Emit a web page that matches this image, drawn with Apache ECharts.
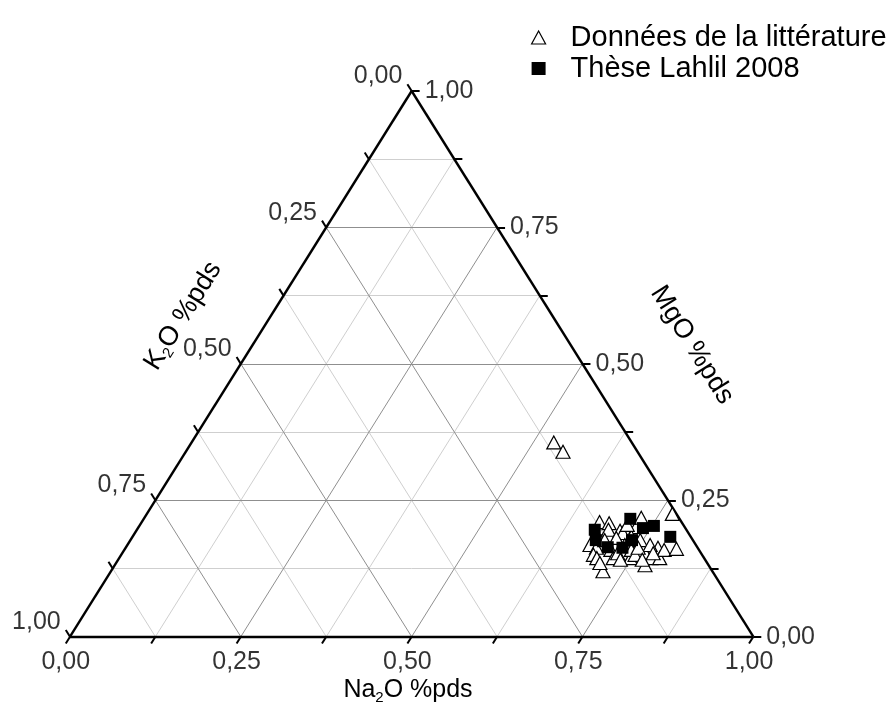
<!DOCTYPE html>
<html>
<head>
<meta charset="utf-8">
<script src="https://cdn.jsdelivr.net/npm/echarts@6/dist/echarts.min.js"></script>
<style>html,body{margin:0;padding:0;background:#fff;}#c{width:893px;height:714px;}</style>
</head>
<body>
<div id="c"></div>
<script>
// ---- data: ternary compositions Na2O, MgO, K2O (fractions) ----
const litNa2O = [0.670,0.685,0.690,0.708,0.714,0.709,0.677,0.689,0.691,0.699,0.720,0.708,0.712,0.723,0.725,0.728,0.748,0.742,0.752,0.728,0.727,0.730,0.746,0.768,0.776,0.778,0.779,0.791,0.790,0.769,0.807,0.713,0.765,0.750,0.735,0.694,0.777,0.767,0.530,0.552];
const litMgO  = [0.210,0.208,0.196,0.194,0.190,0.181,0.168,0.163,0.150,0.144,0.120,0.135,0.159,0.144,0.153,0.168,0.144,0.159,0.150,0.201,0.218,0.183,0.177,0.150,0.131,0.144,0.163,0.144,0.159,0.225,0.161,0.205,0.168,0.163,0.141,0.177,0.153,0.141,0.356,0.339];
const litK2O  = [0.120,0.107,0.114,0.098,0.096,0.110,0.155,0.148,0.159,0.157,0.160,0.157,0.129,0.133,0.122,0.104,0.108,0.099,0.098,0.071,0.055,0.087,0.077,0.082,0.093,0.078,0.058,0.065,0.051,0.006,0.032,0.082,0.067,0.087,0.124,0.129,0.070,0.092,0.114,0.109];

const theseNa2O = [0.670,0.681,0.705,0.727,0.712,0.734,0.739,0.753,0.787];
const theseMgO  = [0.196,0.177,0.164,0.163,0.216,0.177,0.199,0.203,0.183];
const theseK2O  = [0.134,0.142,0.131,0.110,0.072,0.089,0.062,0.044,0.030];

const tickValues = [0,0.125,0.25,0.375,0.5,0.625,0.75,0.875,1];
const labelValues = [0,0.25,0.5,0.75,1];
const labelTexts = ['0,00','0,25','0,50','0,75','1,00'];
const seriesNames = ['Données de la littérature','Thèse Lahlil 2008'];

// ---- layout ----
const G = {left:70, right:893-753.3, top:91, bottom:714-636.7};
const W = 893 - G.left - G.right, H = 714 - G.top - G.bottom;
const TICK = 8;
const slantLen = Math.sqrt((0.5*W)*(0.5*W) + H*H);
const FONT = 'Liberation Sans, Arial, sans-serif';
const LBL = 25;

// ternary -> cartesian (Na2O at bottom-right, MgO at top, K2O at bottom-left)
function toXY(na, mg){ return [na + mg/2, mg]; }

const majorLines = [], minorLines = [];
tickValues.forEach(t=>{
  if (t<=0 || t>=1) return;
  const segs = [
    [toXY(0,t), toXY(1-t,t)],        // MgO const
    [toXY(t,0), toXY(t,1-t)],        // Na2O const
    [toXY(1-t,0), toXY(0,1-t)]       // K2O const
  ];
  const major = Math.abs(t*4 - Math.round(t*4)) < 1e-9;
  segs.forEach(s => (major ? majorLines : minorLines).push({coords:s}));
});
const edges = [
  {coords:[toXY(0,0), toXY(1,0)]},
  {coords:[toXY(1,0), toXY(0,1)]},
  {coords:[toXY(0,1), toXY(0,0)]}
];
const tickSegs = [];
const kS = TICK/slantLen;
tickValues.forEach(t=>{
  const b = toXY(t,0); tickSegs.push({coords:[b,[b[0]-0.5*kS, b[1]-kS]]});
  const r = toXY(1-t,t); tickSegs.push({coords:[r,[r[0]+TICK/W, r[1]]]});
  const l = toXY(0,1-t); tickSegs.push({coords:[l,[l[0]-0.5*kS, l[1]+kS]]});
});
const bottomLabels = [], rightLabels = [], leftLabels = [];
labelValues.forEach((t,i)=>{
  const b = toXY(t,0); bottomLabels.push({value:[b[0]-0.5*kS, b[1]-kS], name:labelTexts[i]});
  const r = toXY(1-t,t); rightLabels.push({value:[r[0]+TICK/W, r[1]], name:labelTexts[i]});
  const l = toXY(0,1-t); leftLabels.push({value:[l[0]-0.5*kS, l[1]+kS], name:labelTexts[i]});
});

const litData = litNa2O.map((na,i)=>toXY(na, litMgO[i]).concat([litK2O[i]]));
const theseData = theseNa2O.map((na,i)=>toXY(na, theseMgO[i]).concat([theseK2O[i]]));

function lineSeries(data, color, width){
  return {type:'lines', coordinateSystem:'cartesian2d', polyline:false, silent:true, clip:false,
    lineStyle:{color:color, width:width, opacity:1}, data:data, z:2};
}
function labelSeries(data, pos, extra){
  return {type:'scatter', symbolSize:0, silent:true, clip:false, data:data,
    label:Object.assign({show:true, position:pos, formatter:p=>p.name, color:'#000', fontSize:LBL, fontFamily:FONT}, extra||{})};
}
const sub = {fontSize:15,fontFamily:FONT,fill:'#000',padding:[15,0,0,0]};

const chart = echarts.init(document.getElementById('c'));
chart.setOption({
  animation:false,
  backgroundColor:'#fff',
  grid:{left:G.left, right:G.right, top:G.top, bottom:G.bottom},
  xAxis:{type:'value', min:0, max:1, show:false},
  yAxis:{type:'value', min:0, max:1, show:false},
  legend:{
    data:[{name:seriesNames[0], icon:'triangle', itemStyle:{borderWidth:1.2}},{name:seriesNames[1], icon:'rect'}],
    orient:'vertical', left:526, top:18, itemWidth:14, itemHeight:13, itemGap:2,
    textStyle:{fontSize:29, lineHeight:24, fontFamily:FONT, color:'#000', padding:[0,0,0,20]}
  },
  graphic:[
    {type:'text', x:408, y:690, style:{rich:{a:{fontSize:25,fontFamily:FONT,fill:'#000'}, s:sub},
      text:'{a|Na}{s|2}{a|O %pds}', align:'center', verticalAlign:'middle'}},
    {type:'text', x:183, y:316, rotation:58*Math.PI/180, style:{rich:{a:{fontSize:27,fontFamily:FONT,fill:'#000'}, s:sub},
      text:'{a|K}{s|2}{a|O %pds}', align:'center', verticalAlign:'middle'}},
    {type:'text', x:692, y:345, rotation:-58*Math.PI/180, style:{text:'MgO %pds', fill:'#000', align:'center', verticalAlign:'middle', fontSize:27, fontFamily:FONT}}
  ],
  series:[
    lineSeries(minorLines, '#cfcfcf', 1),
    lineSeries(majorLines, '#8f8f8f', 1),
    lineSeries(edges, '#000', 2.4),
    lineSeries(tickSegs, '#000', 2),
    labelSeries(bottomLabels, 'bottom', {distance:6}),
    labelSeries(rightLabels, 'right', {distance:5}),
    labelSeries(leftLabels, 'left', {distance:5, offset:[0,-8]}),
    {name:seriesNames[0], type:'scatter', data:litData, symbol:'triangle', symbolSize:[14,13], z:5,
      itemStyle:{color:'#fff', borderColor:'#000', borderWidth:1.2, opacity:1}},
    {name:seriesNames[1], type:'scatter', data:theseData, symbol:'rect', symbolSize:12, z:6,
      itemStyle:{color:'#000', borderColor:'#000', borderWidth:0, opacity:1}}
  ]
});
</script>
</body>
</html>
